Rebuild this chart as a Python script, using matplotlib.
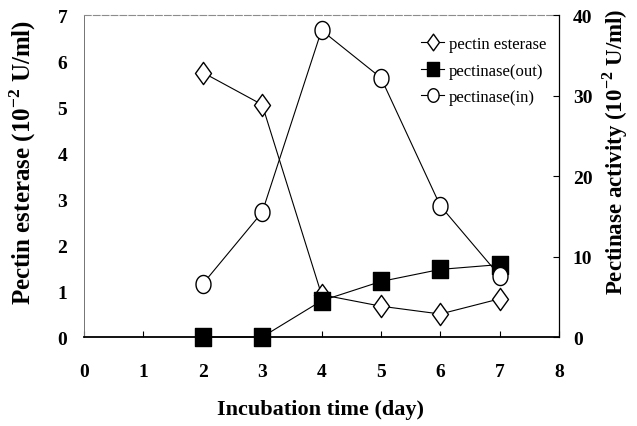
import numpy as np
import matplotlib
matplotlib.use('Agg')
import matplotlib.pyplot as plt
from matplotlib.path import Path

plt.rcParams['font.family'] = ['Liberation Serif', 'DejaVu Serif']
plt.rcParams['mathtext.fontset'] = 'custom'
plt.rcParams['mathtext.rm'] = 'Liberation Serif:bold'
plt.rcParams['mathtext.bf'] = 'Liberation Serif:bold'
plt.rcParams['xtick.direction'] = 'in'
plt.rcParams['ytick.direction'] = 'in'

days = [2, 3, 4, 5, 6, 7]
pectin_esterase = [5.75, 5.05, 0.92, 0.67, 0.50, 0.83]
pectinase_out = [0.0, 0.0, 4.5, 6.9, 8.4, 9.0]
pectinase_in = [6.6, 15.5, 38.1, 32.2, 16.3, 7.6]

x_ticks = [0, 1, 2, 3, 4, 5, 6, 7, 8]
left_ticks = [0, 1, 2, 3, 4, 5, 6, 7]
right_ticks = [0, 10, 20, 30, 40]

# markers in the scan are a bit taller than wide
diamond = Path([(0, 1), (0.72, 0), (0, -1), (-0.72, 0), (0, 1)],
               [Path.MOVETO, Path.LINETO, Path.LINETO, Path.LINETO, Path.CLOSEPOLY])
square = Path([(-0.85, -1), (0.85, -1), (0.85, 1), (-0.85, 1), (-0.85, -1)],
              [Path.MOVETO, Path.LINETO, Path.LINETO, Path.LINETO, Path.CLOSEPOLY])
t = np.linspace(0, 2 * np.pi, 60)
ellipse = Path(np.column_stack([0.83 * np.cos(t), np.sin(t)]))

fig = plt.figure(figsize=(6.37, 4.27), dpi=100)
ax1 = fig.add_axes([0.132, 0.2084, 0.7456, 0.7541])
ax2 = ax1.twinx()

l1, = ax1.plot(days, pectin_esterase, color='k', lw=0.8, marker=diamond, ms=16,
               mfc='white', mec='k', mew=1.0, label='pectin esterase', clip_on=False)
l2, = ax2.plot(days, pectinase_out, color='k', lw=0.8, marker=square, ms=13.5,
               mfc='k', mec='k', mew=1.0, label='pectinase(out)', clip_on=False)
l3, = ax2.plot(days, pectinase_in, color='k', lw=0.8, marker=ellipse, ms=13,
               mfc='white', mec='k', mew=1.0, label='pectinase(in)', clip_on=False)

ax1.set_xlim(0, 8)
ax1.set_ylim(0, 7)
ax2.set_ylim(0, 40)
ax1.set_xticks(x_ticks)
ax1.set_yticks(left_ticks)
ax2.set_yticks(right_ticks)

tick_font = dict(family='Liberation Serif', weight='bold', size=14)
ax1.set_xticklabels([str(v) for v in x_ticks], **tick_font)
ax1.set_yticklabels([str(v) for v in left_ticks], **tick_font)
ax2.set_yticklabels([str(v) for v in right_ticks], **tick_font)

ax1.tick_params(axis='x', length=4, width=0.8, pad=19, top=False)
ax1.tick_params(axis='y', length=0, pad=12)
ax2.tick_params(axis='y', length=4, width=0.8, pad=10)

for s in ['left', 'top', 'bottom']:
    ax2.spines[s].set_visible(False)
ax1.spines['right'].set_visible(False)
ax2.spines['right'].set_linewidth(0.9)
ax1.spines['bottom'].set_linewidth(1.3)
ax1.spines['left'].set_color('0.45')
ax1.spines['left'].set_linewidth(0.7)
ax1.spines['top'].set_color('0.55')
ax1.spines['top'].set_linewidth(0.8)
ax1.spines['top'].set_linestyle((0, (6, 2)))

fig.text(0.035, 0.62, r'Pectin esterase (10$^{-2}$ U/ml)', rotation=90,
         ha='center', va='center', fontsize=18, weight='bold')
fig.text(0.965, 0.645, r'Pectinase activity (10$^{-2}$ U/ml)', rotation=90,
         ha='center', va='center', fontsize=16.5, weight='bold')
fig.text(0.503, 0.04, 'Incubation time (day)', ha='center', va='center',
         fontsize=16, weight='bold')

leg = ax2.legend(handles=[l1, l2, l3], loc='upper left', bbox_to_anchor=(0.695, 0.955),
                 frameon=False, fontsize=12, handlelength=1.4, handletextpad=0.3,
                 labelspacing=0.62, markerscale=0.75, borderaxespad=0)

fig.savefig('out.png', dpi=100)
